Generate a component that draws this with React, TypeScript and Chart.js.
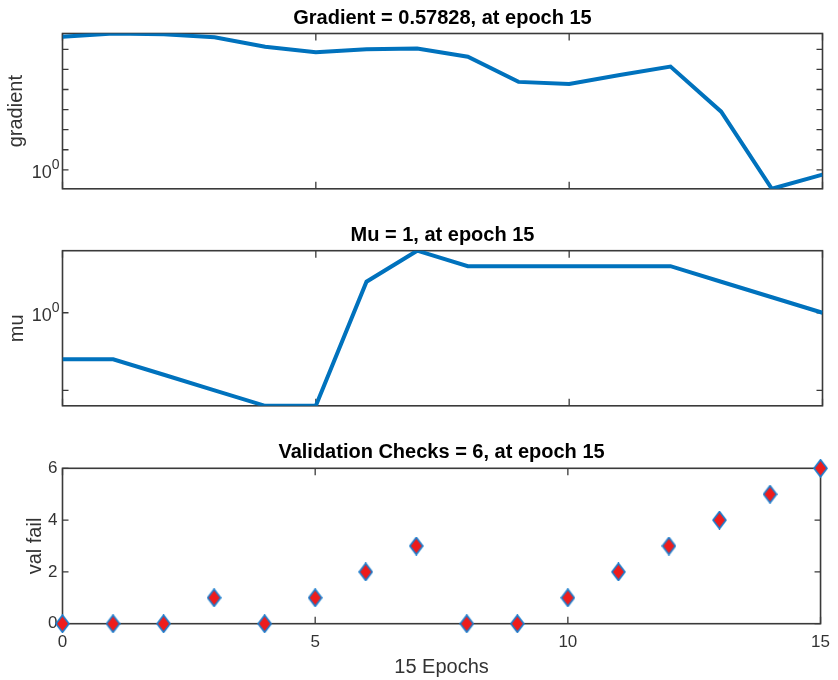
import { useEffect, useRef } from 'react';
import { Chart, registerables } from 'chart.js';

Chart.register(...registerables);

// Training record, one entry per epoch
const epochs = [0, 1, 2, 3, 4, 5, 6, 7, 8, 9, 10, 11, 12, 13, 14, 15];
const gradient = [4.27e6, 6.17e6, 5.6e6, 4.0e6, 1.36e6, 7.2e5, 1.0e6, 1.1e6, 4.3e5, 2.4e4, 1.9e4, 5.3e4, 1.4e5, 790, 0.1135, 0.57828];
const mu = [1e-3, 1e-3, 1e-4, 1e-5, 1e-6, 1e-6, 1e2, 1e4, 1e3, 1e3, 1e3, 1e3, 1e3, 1e2, 1e1, 1];
const valFail = [0, 0, 0, 1, 0, 1, 2, 3, 0, 0, 1, 2, 3, 4, 5, 6];

// Tick positions
const epochTicks = [0, 5, 10, 15];
const gradientTicks = [1, 10, 100, 1e3, 1e4, 1e5, 1e6];
const muTicks = [1e-5, 1];
const powerLabels = [1];
const valFailTicks = [0, 2, 4, 6];

// Panel titles and axis labels
const gradientTitle = 'Gradient = 0.57828, at epoch 15';
const muTitle = 'Mu = 1, at epoch 15';
const valTitle = 'Validation Checks = 6, at epoch 15';
const xLabel = '15 Epochs';

const FONT = '"Liberation Sans", Arial, Helvetica, sans-serif';
const FRAME = '#3a3a3a';
const TEXT = '#333333';
const LINE = '#0072BD';

const axesFrame = {
  id: 'axesFrame',
  beforeDatasetsDraw(chart: any) {
    const o = chart.options.plugins.axesFrame;
    const { ctx, chartArea: a } = chart;
    const xs = chart.scales.x;
    const ys = chart.scales.y;
    ctx.save();
    ctx.strokeStyle = FRAME;
    ctx.lineWidth = 1.6;
    ctx.strokeRect(a.left, a.top, a.right - a.left, a.bottom - a.top);
    ctx.lineWidth = 1.3;
    ctx.beginPath();
    for (const v of o.xTicks) {
      const px = xs.getPixelForValue(v);
      ctx.moveTo(px, a.bottom);
      ctx.lineTo(px, a.bottom - 7);
      ctx.moveTo(px, a.top);
      ctx.lineTo(px, a.top + 7);
    }
    for (const v of o.yTicks) {
      const py = ys.getPixelForValue(v);
      ctx.moveTo(a.left, py);
      ctx.lineTo(a.left + 6, py);
      ctx.moveTo(a.right, py);
      ctx.lineTo(a.right - 6, py);
    }
    ctx.stroke();

    // powers of ten written as 10 with a raised exponent
    if (o.powerLabels) {
      ctx.fillStyle = TEXT;
      ctx.textAlign = 'right';
      ctx.textBaseline = 'middle';
      for (const v of o.powerLabels) {
        const py = ys.getPixelForValue(v);
        const exp = String(Math.round(Math.log10(v)));
        ctx.font = `14px ${FONT}`;
        const supW = ctx.measureText(exp).width;
        ctx.fillText(exp, a.left - 3, py - 5);
        ctx.font = `18px ${FONT}`;
        ctx.fillText('10', a.left - 3 - supW, py + 3);
      }
    }

    // panel title
    ctx.fillStyle = '#000';
    ctx.font = `bold 20px ${FONT}`;
    ctx.textAlign = 'center';
    ctx.textBaseline = 'alphabetic';
    ctx.fillText(o.title, (a.left + a.right) / 2, a.top - 10);
    ctx.restore();
  },
};

function diamond(): HTMLCanvasElement {
  const w = 15;
  const h = 19;
  const c = document.createElement('canvas');
  c.width = w;
  c.height = h;
  const g = c.getContext('2d')!;
  g.beginPath();
  g.moveTo(w / 2, 1);
  g.lineTo(w - 1, h / 2);
  g.lineTo(w / 2, h - 1);
  g.lineTo(1, h / 2);
  g.closePath();
  g.fillStyle = '#ee1c1c';
  g.fill();
  g.lineWidth = 1.7;
  g.strokeStyle = '#1c7ccc';
  g.stroke();
  return c;
}

const pairs = (ys: number[]) => epochs.map((x, i) => ({ x, y: ys[i] }));

function logPanel(
  canvas: HTMLCanvasElement,
  values: number[],
  ticks: number[],
  title: string,
  yLabel: string,
  labelPad: number,
  padTop: number,
  padBottom: number
) {
  return new Chart(canvas, {
    type: 'line',
    data: {
      datasets: [
        {
          data: pairs(values),
          borderColor: LINE,
          borderWidth: 4,
          pointRadius: 0,
          tension: 0,
          fill: false,
        },
      ],
    },
    options: {
      responsive: false,
      animation: false,
      events: [],
      layout: { padding: { top: padTop, bottom: padBottom, left: 0, right: 15.5 } },
      scales: {
        x: { type: 'linear', min: 0, max: 15, display: false },
        y: {
          type: 'logarithmic',
          min: Math.min(...values),
          max: Math.max(...values),
          ticks: { display: false },
          grid: { display: false, drawTicks: false },
          border: { display: false },
          title: {
            display: true,
            text: yLabel,
            color: TEXT,
            font: { size: 20, family: FONT },
            padding: { top: labelPad, bottom: 0 },
          },
          afterFit: (s: any) => {
            s.width = 62.5;
          },
        },
      },
      plugins: {
        legend: { display: false },
        tooltip: { enabled: false },
        axesFrame: { title, xTicks: epochTicks, yTicks: ticks, powerLabels },
      } as any,
    },
    plugins: [axesFrame],
  } as any);
}

export default function App() {
  const c1 = useRef<HTMLCanvasElement>(null);
  const c2 = useRef<HTMLCanvasElement>(null);
  const c3 = useRef<HTMLCanvasElement>(null);

  useEffect(() => {
    Chart.defaults.font.family = FONT;
    const g = logPanel(c1.current!, gradient, gradientTicks, gradientTitle, 'gradient', 4, 33.5, 28.2);
    const m = logPanel(c2.current!, mu, muTicks, muTitle, 'mu', 5, 33.7, 28.2);
    const v = new Chart(c3.current!, {
      type: 'line',
      data: {
        datasets: [
          {
            data: pairs(valFail),
            showLine: false,
            pointStyle: diamond(),
            pointRadius: 8,
            clip: false,
          },
        ],
      },
      options: {
        responsive: false,
        animation: false,
        events: [],
        layout: { padding: { top: 34.3, bottom: 0, left: 0, right: 15.5 } },
        scales: {
          x: {
            type: 'linear',
            min: 0,
            max: 15,
            afterBuildTicks: (s: any) => {
              s.ticks = epochTicks.map((value) => ({ value }));
            },
            ticks: { color: TEXT, font: { size: 17, family: FONT }, padding: 8 },
            grid: { display: false, drawTicks: false },
            border: { display: false },
            title: {
              display: true,
              text: xLabel,
              color: TEXT,
              font: { size: 20, family: FONT },
              padding: { top: 0, bottom: 1 },
            },
            afterFit: (s: any) => {
              s.height = 56.3;
            },
          },
          y: {
            type: 'linear',
            min: 0,
            max: 6,
            afterBuildTicks: (s: any) => {
              s.ticks = valFailTicks.map((value) => ({ value }));
            },
            ticks: { color: TEXT, font: { size: 17, family: FONT }, padding: 5 },
            grid: { display: false, drawTicks: false },
            border: { display: false },
            title: {
              display: true,
              text: 'val fail',
              color: TEXT,
              font: { size: 20, family: FONT },
              padding: { top: 23, bottom: 0 },
            },
            afterFit: (s: any) => {
              s.width = 62.5;
            },
          },
        },
        plugins: {
          legend: { display: false },
          tooltip: { enabled: false },
          axesFrame: { title: valTitle, xTicks: epochTicks, yTicks: valFailTicks },
        } as any,
      },
      plugins: [axesFrame],
    } as any);
    return () => {
      g.destroy();
      m.destroy();
      v.destroy();
    };
  }, []);

  const canvasStyle = (top: number): React.CSSProperties => ({
    position: 'absolute',
    left: 0,
    top,
    display: 'block',
  });

  return (
    <div style={{ position: 'absolute', left: 0, top: 0, width: 838, height: 680, background: '#fff', overflow: 'hidden' }}>
      <canvas ref={c1} width={838} height={217} style={canvasStyle(0)} />
      <canvas ref={c2} width={838} height={217} style={canvasStyle(217)} />
      <canvas ref={c3} width={838} height={246} style={canvasStyle(434)} />
    </div>
  );
}
